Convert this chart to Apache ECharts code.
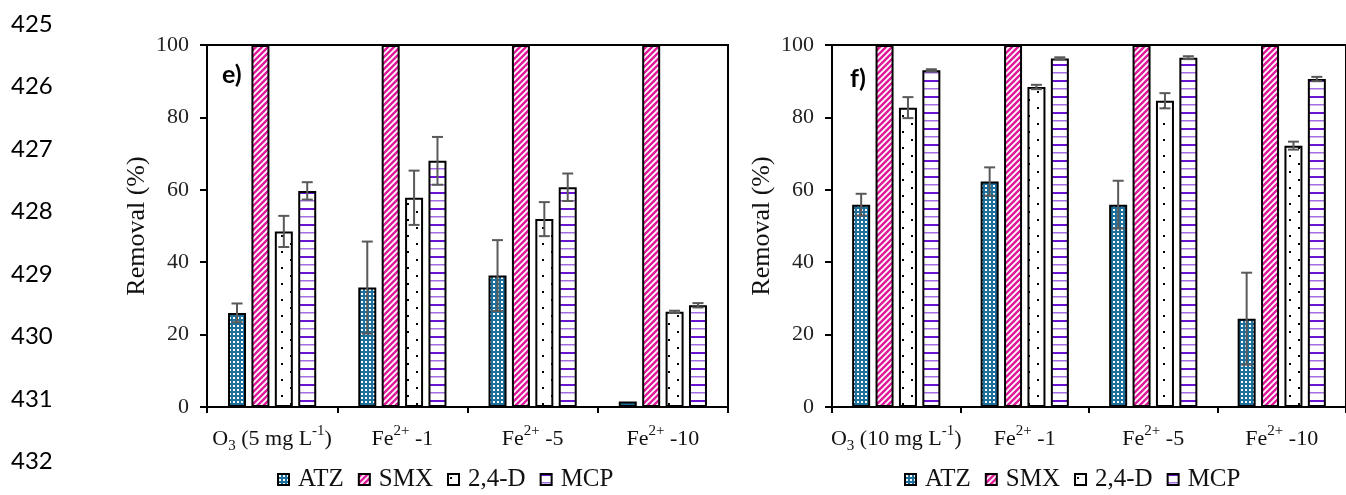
<!DOCTYPE html>
<html><head><meta charset="utf-8">
<script src="https://cdn.jsdelivr.net/npm/echarts@6/dist/echarts.min.js"></script>
<style>html,body{margin:0;padding:0;background:#fff}#c{width:1346px;height:495px}</style>
</head><body><div id="c"></div>
<script>
// ---------- data ----------
const seriesNames = ['ATZ', 'SMX', '2,4-D', 'MCP'];
const categoriesE = ['O{sub|3} (5 mg L{sup|-1})', 'Fe{sup|2+} -1', 'Fe{sup|2+} -5', 'Fe{sup|2+} -10'];
const categoriesF = ['O{sub|3} (10 mg L{sup|-1})', 'Fe{sup|2+} -1', 'Fe{sup|2+} -5', 'Fe{sup|2+} -10'];
const yTicks = [0, 20, 40, 60, 80, 100];
const axisTitle = 'Removal (%)';
const panelLabels = ['e)', 'f)'];
const lineNumbers = ['425', '426', '427', '428', '429', '430', '431', '432'];

// panel e)
const atzE = [26.0, 33.0, 36.3, 1.5];
const smxE = [100, 100, 100, 100];
const d24E = [48.5, 57.8, 51.9, 26.3];
const mcpE = [59.7, 68.0, 60.7, 28.1];
const atzErrE = [2.6, 12.7, 9.8, 0];
const smxErrE = [0, 0, 0, 0];
const d24ErrE = [4.3, 7.5, 4.7, 0.3];
const mcpErrE = [2.4, 6.6, 3.8, 0.6];

// panel f)
const atzF = [55.9, 62.3, 55.9, 24.4];
const smxF = [100, 100, 100, 100];
const d24F = [82.7, 88.4, 84.6, 72.2];
const mcpF = [93.0, 96.3, 96.5, 90.6];
const atzErrF = [3.0, 3.9, 6.6, 12.7];
const smxErrF = [0, 0, 0, 0];
const d24ErrF = [2.9, 0.6, 2.1, 1.1];
const mcpErrF = [0.3, 0.3, 0.4, 0.6];

// ---------- styling ----------
const BAR_W = 18, BAR_GAP = 0.3;
const SERIF = '"Liberation Serif", "Times New Roman", serif';
const SANS = 'Lato, "Open Sans", sans-serif';

function pat(w, h, draw) {
  const c = document.createElement('canvas');
  c.width = w; c.height = h;
  draw(c.getContext('2d'));
  return { image: c, repeat: 'repeat' };
}
const fills = [
  pat(4, 4, g => { g.fillStyle = '#1d6f9c'; g.fillRect(0, 0, 4, 4); g.fillStyle = '#ffffff'; g.fillRect(1, 1, 2, 2); }),
  pat(6, 6, g => {
    g.fillStyle = '#e0189a'; g.fillRect(0, 0, 6, 6);
    g.strokeStyle = '#ffffff'; g.lineWidth = 1.8;
    g.beginPath(); g.moveTo(-1, 7); g.lineTo(7, -1); g.moveTo(-4, 4); g.lineTo(4, -4); g.moveTo(2, 10); g.lineTo(10, 2); g.stroke();
  }),
  pat(18, 16, g => { g.fillStyle = '#ffffff'; g.fillRect(0, 0, 18, 16); g.fillStyle = '#000'; g.fillRect(2, 3, 2, 2); g.fillRect(11, 11, 2, 2); }),
  pat(4, 16, g => { g.fillStyle = '#ffffff'; g.fillRect(0, 0, 4, 16); g.fillStyle = '#6a14d4'; g.fillRect(0, 0, 4, 2); g.fillStyle = '#a36ee6'; g.fillRect(0, 8, 4, 1.5); })
];

const dataE = [atzE, smxE, d24E, mcpE];
const errE = [atzErrE, smxErrE, d24ErrE, mcpErrE];
const dataF = [atzF, smxF, d24F, mcpF];
const errF = [atzErrF, smxErrF, d24ErrF, mcpErrF];

const rich = {
  sub: { fontFamily: SERIF, fontSize: 15, color: '#111', lineHeight: 15, verticalAlign: 'bottom' },
  sup: { fontFamily: SERIF, fontSize: 15, color: '#111', lineHeight: 15, verticalAlign: 'top' }
};

function xAxisCfg(idx, cats) {
  return {
    type: 'category', gridIndex: idx, data: cats, boundaryGap: true,
    axisLine: { show: true, lineStyle: { color: '#000', width: 2 } },
    axisTick: { show: true, length: 6, lineStyle: { color: '#000', width: 2 } },
    axisLabel: {
      interval: 0, margin: 17, fontFamily: SERIF, fontSize: 22, color: '#111', lineHeight: 30,
      rich: rich
    }
  };
}
function yAxisCfg(idx) {
  return {
    type: 'value', gridIndex: idx, min: yTicks[0], max: yTicks[yTicks.length - 1], interval: yTicks[1] - yTicks[0],
    name: axisTitle, nameLocation: 'middle', nameGap: 57,
    nameTextStyle: { fontFamily: SERIF, fontSize: 26, color: '#111' },
    splitLine: { show: false },
    axisLine: { show: true, lineStyle: { color: '#000', width: 2 } },
    axisTick: { show: true, length: 7, lineStyle: { color: '#000', width: 2 } },
    axisLabel: { margin: 18, fontFamily: SERIF, fontSize: 22, color: '#222' }
  };
}

function barSeries(ax, data, i) {
  return {
    type: 'bar', name: seriesNames[i], xAxisIndex: ax, yAxisIndex: ax, data: data,
    barWidth: BAR_W, barGap: (BAR_GAP * 100) + '%',
    itemStyle: { color: fills[i], borderColor: '#000', borderWidth: 2 },
    emphasis: { disabled: true }, z: 2
  };
}
function errSeries(ax, vals, errs, i) {
  return {
    type: 'custom', xAxisIndex: ax, yAxisIndex: ax, silent: true, z: 5,
    data: vals.map((v, k) => [k, v, errs[k]]),
    renderItem: (params, api) => {
      const c = api.value(0), v = api.value(1), e = api.value(2);
      if (!e) return null;
      const off = (i - 1.5) * BAR_W * (1 + BAR_GAP);
      const t = api.coord([c, v + e]), b = api.coord([c, v - e]);
      const x = t[0] + off, cw = 5.5;
      const st = { stroke: '#595959', lineWidth: 2 };
      return { type: 'group', children: [
        { type: 'line', shape: { x1: x, y1: t[1], x2: x, y2: b[1] }, style: st },
        { type: 'line', shape: { x1: x - cw, y1: t[1], x2: x + cw, y2: t[1] }, style: st },
        { type: 'line', shape: { x1: x - cw, y1: b[1], x2: x + cw, y2: b[1] }, style: st }
      ]};
    }
  };
}

const series = [];
dataE.forEach((d, i) => series.push(barSeries(0, d, i)));
dataF.forEach((d, i) => series.push(barSeries(1, d, i)));
dataE.forEach((d, i) => series.push(errSeries(0, d, errE[i], i)));
dataF.forEach((d, i) => series.push(errSeries(1, d, errF[i], i)));

const legendCfg = left => ({
  data: seriesNames, left: left, top: 467, orient: 'horizontal',
  itemWidth: 11, itemHeight: 11, itemGap: 14, icon: 'rect', padding: 0,
  selectedMode: false,
  textStyle: { fontFamily: SERIF, fontSize: 25, color: '#111', padding: [0, 0, 0, 4] }
});

const graphics = lineNumbers.map((n, k) => ({
  type: 'text', left: 11, top: 12 + k * 62.5,
  style: { text: n, font: '24px ' + SANS, fill: '#000' }
}));
graphics.push({ type: 'text', left: 222, top: 62, style: { text: panelLabels[0], font: 'bold 25px ' + SANS, fill: '#000' } });
graphics.push({ type: 'text', left: 850, top: 66, style: { text: panelLabels[1], font: 'bold 25px ' + SANS, fill: '#000' } });

const chart = echarts.init(document.getElementById('c'), null, { renderer: 'canvas' });
chart.setOption({
  animation: false,
  backgroundColor: '#fff',
  grid: [
    { left: 207, top: 45, width: 521, height: 362, show: true, borderColor: '#000', borderWidth: 2, backgroundColor: 'transparent' },
    { left: 832, top: 45, width: 521, height: 362, show: true, borderColor: '#000', borderWidth: 2, backgroundColor: 'transparent' }
  ],
  xAxis: [xAxisCfg(0, categoriesE), xAxisCfg(1, categoriesF)],
  yAxis: [yAxisCfg(0), yAxisCfg(1)],
  legend: [legendCfg(277), legendCfg(904)],
  series: series,
  graphic: graphics
});
</script></body></html>
